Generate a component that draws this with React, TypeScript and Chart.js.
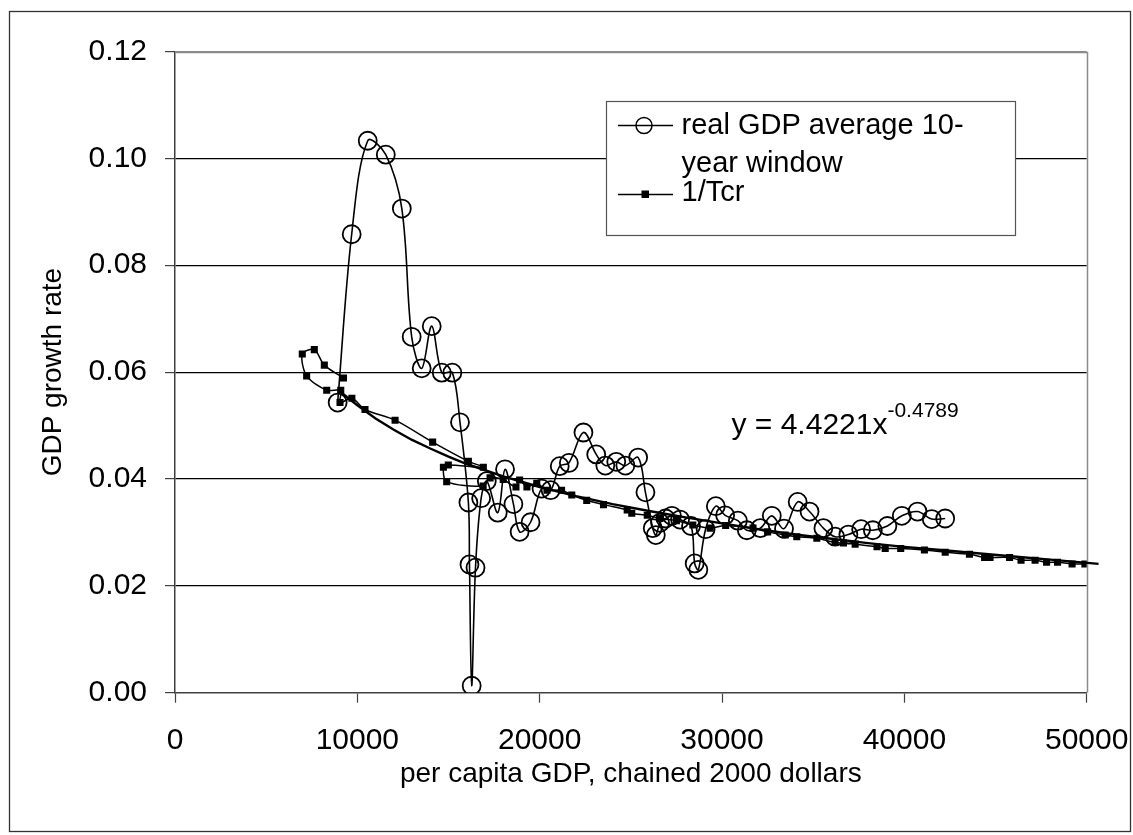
import React, { useEffect, useRef } from "react";
import { Chart, registerables } from "chart.js";

Chart.register(...registerables);

// real GDP average 10-year window (per capita GDP, growth rate)
const circX = [8920, 9690, 10570, 11560, 12440, 12980, 13530, 14080, 14630, 15210, 15630, 16090, 16150, 16270, 16480, 16790, 17100, 17700, 18100, 18560, 18900, 19500, 20100, 20600, 21100, 21600, 22400, 23100, 23600, 24200, 24700, 25400, 25800, 26200, 26370, 26600, 26900, 27250, 27700, 28300, 28500, 28700, 29100, 29660, 30170, 30870, 31360, 32100, 32730, 33400, 34150, 34800, 35560, 36200, 36930, 37630, 38270, 39070, 39860, 40720, 41500, 42240];
const circY = [0.0543, 0.0858, 0.1033, 0.1007, 0.0906, 0.0666, 0.0607, 0.0686, 0.0599, 0.0599, 0.0506, 0.0356, 0.0240, 0.0013, 0.0234, 0.0364, 0.0396, 0.0337, 0.0418, 0.0353, 0.0301, 0.0319, 0.0382, 0.0379, 0.0424, 0.0430, 0.0487, 0.0446, 0.0425, 0.0432, 0.0425, 0.0440, 0.0375, 0.0308, 0.0295, 0.0318, 0.0326, 0.0331, 0.0324, 0.0312, 0.0242, 0.0230, 0.0306, 0.0349, 0.0332, 0.0322, 0.0304, 0.0308, 0.0331, 0.0307, 0.0357, 0.0339, 0.0308, 0.0292, 0.0296, 0.0306, 0.0304, 0.0312, 0.0331, 0.0339, 0.0325, 0.0326];

// 1/Tcr
const tcrX = [9240, 8190, 7640, 6980, 7220, 8320, 9090, 9050, 9700, 10420, 12070, 14130, 16090, 16910, 14990, 14720, 14900, 16900, 17280, 18000, 18700, 18900, 19300, 19840, 20400, 21200, 21760, 22580, 23500, 24800, 25050, 25900, 26600, 27500, 28400, 29350, 30200, 31700, 32500, 33460, 34100, 35200, 36200, 36660, 37300, 38500, 38950, 39800, 41100, 42240, 43570, 44400, 44700, 45770, 46400, 47170, 47800, 48400, 49200, 49900];
const tcrY = [0.0589, 0.0613, 0.0642, 0.0634, 0.0593, 0.0566, 0.0566, 0.0543, 0.0551, 0.0530, 0.0510, 0.0469, 0.0433, 0.0422, 0.0426, 0.0422, 0.0395, 0.0387, 0.0402, 0.0399, 0.0385, 0.0398, 0.0385, 0.0392, 0.0379, 0.0379, 0.0370, 0.0360, 0.0352, 0.0342, 0.0336, 0.0332, 0.0326, 0.0322, 0.0314, 0.0308, 0.0313, 0.0308, 0.0301, 0.0295, 0.0292, 0.0289, 0.0281, 0.0280, 0.0278, 0.0273, 0.0270, 0.0270, 0.0267, 0.0263, 0.0259, 0.0253, 0.0253, 0.0253, 0.0248, 0.0248, 0.0244, 0.0244, 0.0241, 0.0241];

// power trendline as drawn in the picture
const trendX = [8920, 10000, 11000, 12000, 13000, 14000, 15000, 16000, 18000, 20000, 22000, 24000, 26000, 28000, 30000, 32000, 34000, 36000, 38000, 40000, 42000, 44000, 46000, 48000, 50650];
const trendY = [0.0567, 0.0538, 0.0513, 0.0492, 0.0473, 0.0457, 0.0442, 0.0428, 0.0405, 0.0385, 0.0368, 0.0353, 0.0340, 0.0328, 0.0317, 0.0306, 0.0296, 0.0288, 0.0280, 0.0273, 0.0267, 0.0261, 0.0255, 0.0249, 0.0241];

const xTicks = [0, 10000, 20000, 30000, 40000, 50000];
const yTicks = [0, 0.02, 0.04, 0.06, 0.08, 0.1, 0.12];
const legendLines = ["real GDP average 10-", "year window", "1/Tcr"];
const xTitle = "per capita GDP, chained 2000 dollars";
const yTitle = "GDP growth rate";
const eqMain = "y = 4.4221x";
const eqExp = "-0.4789";

const FONT = "'Liberation Sans', Arial, sans-serif";

const pts = (xs: number[], ys: number[]) => xs.map((x, i) => ({ x, y: ys[i] }));

const decorPlugin = {
  id: "decor",
  beforeDraw(chart: any) {
    const ctx = chart.ctx;
    ctx.save();
    ctx.fillStyle = "#ffffff";
    ctx.fillRect(0, 0, chart.width, chart.height);
    ctx.strokeStyle = "#333333";
    ctx.lineWidth = 1.3;
    ctx.strokeRect(9.5, 11.5, 1121, 820);
    ctx.restore();
  },
  beforeDatasetsDraw(chart: any) {
    const ctx = chart.ctx;
    const a = chart.chartArea;
    ctx.save();
    ctx.strokeStyle = "#8a8a8a";
    ctx.lineWidth = 1.5;
    ctx.beginPath();
    ctx.moveTo(a.left, Math.round(a.top) + 0.5);
    ctx.lineTo(Math.round(a.right) + 0.5, Math.round(a.top) + 0.5);
    ctx.lineTo(Math.round(a.right) + 0.5, a.bottom);
    ctx.stroke();
    ctx.restore();
  },
  afterDraw(chart: any) {
    const ctx = chart.ctx;
    ctx.save();
    // legend box
    ctx.fillStyle = "#ffffff";
    ctx.fillRect(606.5, 101.5, 409, 134);
    ctx.strokeStyle = "#555555";
    ctx.lineWidth = 1.2;
    ctx.strokeRect(606.5, 101.5, 409, 134);
    ctx.strokeStyle = "#000000";
    ctx.lineWidth = 1.5;
    ctx.beginPath();
    ctx.moveTo(618, 125.5);
    ctx.lineTo(673, 125.5);
    ctx.stroke();
    ctx.beginPath();
    ctx.arc(644, 125.5, 8, 0, Math.PI * 2);
    ctx.stroke();
    ctx.beginPath();
    ctx.moveTo(618, 194.5);
    ctx.lineTo(673, 194.5);
    ctx.stroke();
    ctx.fillStyle = "#000000";
    ctx.fillRect(641.5, 190.5, 7.5, 7.5);
    ctx.font = `29px ${FONT}`;
    ctx.textBaseline = "alphabetic";
    ctx.textAlign = "left";
    ctx.fillText(legendLines[0], 681.5, 133.5);
    ctx.fillText(legendLines[1], 681.5, 171.5);
    ctx.fillText(legendLines[2], 681.5, 201);
    // equation
    ctx.font = `30px ${FONT}`;
    ctx.fillText(eqMain, 731.5, 433.5);
    const w = ctx.measureText(eqMain).width;
    ctx.font = `21px ${FONT}`;
    ctx.fillText(eqExp, 731.5 + w, 416.7);
    ctx.restore();
  },
};

export default function App() {
  const ref = useRef<HTMLCanvasElement | null>(null);
  useEffect(() => {
    document.body.style.margin = "0";
    const canvas = ref.current;
    if (!canvas) return;
    const chart = new Chart(canvas, {
      type: "scatter",
      data: {
        datasets: [
          {
            label: "trend",
            data: pts(trendX, trendY),
            showLine: true,
            borderColor: "#000000",
            borderWidth: 2.4,
            pointRadius: 0,
            tension: 0,
            clip: false as any,
          },
          {
            label: "1/Tcr",
            data: pts(tcrX, tcrY),
            showLine: true,
            borderColor: "#000000",
            borderWidth: 1.5,
            pointStyle: "rect",
            pointRadius: 5,
            pointBackgroundColor: "#000000",
            pointBorderColor: "#000000",
            pointBorderWidth: 0,
            tension: 0.3,
          },
          {
            label: "real GDP average 10-year window",
            data: pts(circX, circY),
            showLine: true,
            borderColor: "#000000",
            borderWidth: 1.6,
            pointStyle: "circle",
            pointRadius: 9,
            pointBackgroundColor: "rgba(0,0,0,0)",
            pointBorderColor: "#000000",
            pointBorderWidth: 1.8,
            tension: 0.35,
          },
        ],
      },
      options: {
        animation: false,
        responsive: false,
        devicePixelRatio: 1,
        events: [],
        layout: { padding: { left: 0, top: 51.5, right: 46.3, bottom: 0 } },
        plugins: { legend: { display: false }, tooltip: { enabled: false } },
        scales: {
          x: {
            type: "linear",
            min: 0,
            max: 50000,
            afterBuildTicks: (s: any) => {
              s.ticks = xTicks.map((v) => ({ value: v }));
            },
            afterFit: (s: any) => {
              s.height = 142.3;
              s.paddingLeft = 0;
              s.paddingRight = 0;
            },
            ticks: {
              callback: (v: any) => String(v),
              font: { family: FONT, size: 30 },
              color: "#000000",
              padding: 20,
              maxRotation: 0,
              autoSkip: false,
            },
            grid: {
              drawOnChartArea: false,
              drawTicks: true,
              tickLength: 10,
              tickColor: "#404040",
              tickWidth: 1.2,
            },
            border: { color: "#404040", width: 1.5 },
            title: {
              display: true,
              text: xTitle,
              font: { family: FONT, size: 28 },
              color: "#000000",
              padding: { top: 0, bottom: 43.5 },
            },
          },
          y: {
            type: "linear",
            min: 0,
            max: 0.12,
            afterBuildTicks: (s: any) => {
              s.ticks = yTicks.map((v) => ({ value: v }));
            },
            afterFit: (s: any) => {
              s.width = 175;
              s.paddingTop = 0;
              s.paddingBottom = 0;
            },
            ticks: {
              callback: (v: any) => Number(v).toFixed(2),
              font: { family: FONT, size: 30 },
              color: "#000000",
              padding: 18,
              autoSkip: false,
            },
            grid: {
              color: (c: any) => (c.tick && c.tick.value >= 0.119 ? "#8a8a8a" : c.tick && c.tick.value === 0 ? "rgba(0,0,0,0)" : "#000000"),
              lineWidth: 1.2,
              drawTicks: true,
              tickLength: 10,
              tickColor: "#404040",
              tickWidth: 1.2,
            },
            border: { color: "#404040", width: 1.5 },
            title: {
              display: true,
              text: yTitle,
              font: { family: FONT, size: 28 },
              color: "#000000",
              padding: { top: 36.2, bottom: 0 },
            },
          },
        },
      },
      plugins: [decorPlugin],
    });
    return () => chart.destroy();
  }, []);
  return <canvas ref={ref} width={1133} height={835} style={{ display: "block" }} />;
}
